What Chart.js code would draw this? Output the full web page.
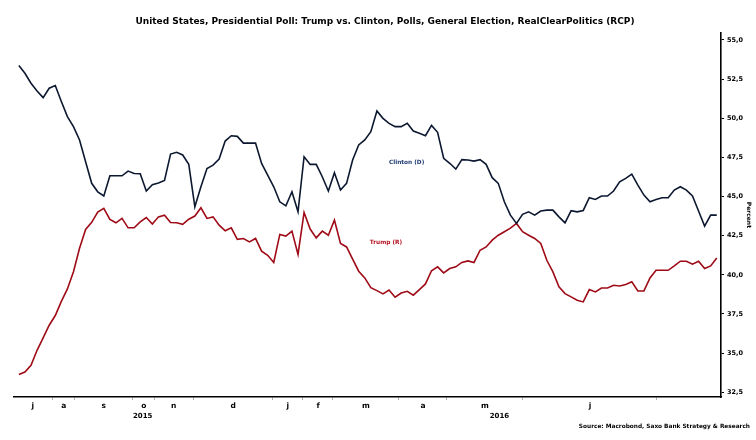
<!DOCTYPE html>
<html>
<head>
<meta charset="utf-8">
<script src="https://cdn.jsdelivr.net/npm/chart.js@4.4.1/dist/chart.umd.min.js"></script>
<style>
  html, body { margin: 0; padding: 0; background: #fff; }
  #wrap { width: 756px; height: 440px; }
</style>
</head>
<body>
<div id="wrap"><canvas id="pollChart"></canvas></div>
<script>
const clinton = [
  53.36, 52.87, 52.23, 51.74, 51.31, 51.91, 52.08, 51.06, 50.10, 49.46,
  48.61, 47.22, 45.84, 45.30, 45.04, 46.32, 46.32, 46.32, 46.62, 46.47,
  46.45, 45.35, 45.75, 45.86, 46.03, 47.71, 47.82, 47.65, 47.05, 44.34,
  45.62, 46.79, 47.00, 47.39, 48.54, 48.88, 48.84, 48.41, 48.41, 48.41,
  47.11, 46.37, 45.62, 44.66, 44.40, 45.30, 44.02, 47.54, 47.05, 47.05,
  46.26, 45.35, 46.52, 45.41, 45.84, 47.33, 48.29, 48.61, 49.14, 50.46,
  49.99, 49.67, 49.46, 49.46, 49.67, 49.18, 49.03, 48.88, 49.54, 49.10,
  47.44, 47.12, 46.75, 47.35, 47.33, 47.26, 47.35, 47.05, 46.20, 45.84,
  44.66, 43.81, 43.28, 43.86, 44.02, 43.81, 44.07, 44.13, 44.13, 43.70,
  43.32, 44.10, 44.02, 44.11, 44.92, 44.81, 45.03, 45.03, 45.35, 45.94,
  46.16, 46.43, 45.73, 45.09, 44.66, 44.81, 44.92, 44.92, 45.41, 45.62,
  45.41, 45.03, 44.07, 43.11, 43.81, 43.81
];
const trump = [
  33.64, 33.79, 34.22, 35.18, 35.97, 36.78, 37.40, 38.30, 39.10, 40.20,
  41.70, 42.90, 43.35, 44.00, 44.24, 43.54, 43.32, 43.60, 43.00, 43.00,
  43.38, 43.66, 43.24, 43.70, 43.81, 43.34, 43.32, 43.22, 43.55, 43.75,
  44.28, 43.60, 43.70, 43.17, 42.81, 43.00, 42.26, 42.32, 42.10, 42.32,
  41.51, 41.25, 40.79, 42.58, 42.47, 42.79, 41.30, 43.98, 42.92, 42.36,
  42.79, 42.53, 43.49, 42.00, 41.78, 41.00, 40.23, 39.80, 39.18, 38.99,
  38.78, 39.03, 38.57, 38.84, 38.95, 38.70, 39.06, 39.42, 40.26, 40.51,
  40.12, 40.40, 40.51, 40.79, 40.89, 40.79, 41.57, 41.78, 42.21, 42.53,
  42.75, 42.98, 43.28, 42.75, 42.53, 42.32, 42.00, 40.93, 40.19, 39.23,
  38.80, 38.59, 38.38, 38.27, 39.06, 38.91, 39.16, 39.16, 39.33, 39.29,
  39.38, 39.55, 38.97, 38.97, 39.80, 40.29, 40.29, 40.29, 40.57, 40.87,
  40.87, 40.68, 40.87, 40.40, 40.57, 41.08
];

// x axis: month letters sit in the middle of each month, ticks at month starts
const monthLabels = ['j', 'a', 's', 'o', 'n', 'd', 'j', 'f', 'm', 'a', 'm', 'j'];
const monthCenters = [2.3, 7.4, 14.0, 20.6, 25.5, 35.3, 44.3, 49.3, 57.2, 66.6, 76.8, 94.1];
const monthStarts = [5.6, 9.2, 18.8, 22.4, 28.7, 41.8, 46.8, 51.7, 62.6, 70.5, 83.0, 105.1];
const yearLabels = ['2015', '2016'];
const yearCenters = [20.4, 79.2];
const yTicks = [32.5, 35, 37.5, 40, 42.5, 45, 47.5, 50, 52.5, 55];

const X_MIN = -0.8, X_MAX = 115.7;
const FONT = '"DejaVu Sans", Verdana, sans-serif';

const seriesLabels = {
  id: 'seriesLabels',
  afterDatasetsDraw(chart) {
    const { ctx, scales: { x, y } } = chart;
    ctx.save();
    ctx.font = `bold 5.8px ${FONT}`;
    ctx.textAlign = 'center';
    ctx.textBaseline = 'middle';
    ctx.fillStyle = '#1d3a72';
    ctx.fillText('Clinton (D)', x.getPixelForValue(63.9), y.getPixelForValue(47.14));
    ctx.fillStyle = '#b3121f';
    ctx.fillText('Trump (R)', x.getPixelForValue(60.5), y.getPixelForValue(42.04));
    ctx.restore();
  }
};

const sourceNote = {
  id: 'sourceNote',
  afterDraw(chart) {
    const { ctx } = chart;
    ctx.save();
    ctx.font = `bold 5.8px ${FONT}`;
    ctx.textAlign = 'right';
    ctx.textBaseline = 'middle';
    ctx.fillStyle = '#000';
    ctx.fillText('Source: Macrobond, Saxo Bank Strategy & Research', chart.width - 6, 426);
    ctx.restore();
  }
};

const xBase = (extra) => Object.assign({
  type: 'linear',
  position: 'bottom',
  min: X_MIN,
  max: X_MAX,
  grid: { display: false, drawTicks: false },
  border: { display: false }
}, extra);

new Chart(document.getElementById('pollChart'), {
  type: 'line',
  data: {
    datasets: [
      {
        label: 'Clinton (D)',
        data: clinton.map((v, i) => ({ x: i, y: v })),
        borderColor: '#0c1830',
        borderWidth: 1.6,
        pointRadius: 0,
        tension: 0
      },
      {
        label: 'Trump (R)',
        data: trump.map((v, i) => ({ x: i, y: v })),
        borderColor: '#9e0b16',
        borderWidth: 1.6,
        pointRadius: 0,
        tension: 0
      }
    ]
  },
  options: {
    responsive: true,
    maintainAspectRatio: false,
    animation: false,
    layout: { padding: { left: 14, right: 0, top: 0, bottom: 19 } },
    plugins: {
      legend: { display: false },
      tooltip: { enabled: false },
      title: {
        display: true,
        text: 'United States, Presidential Poll: Trump vs. Clinton, Polls, General Election, RealClearPolitics (RCP)',
        color: '#000',
        font: { family: FONT, size: 9, weight: 'bold' },
        padding: { top: 16, bottom: 6 }
      }
    },
    scales: {
      x: xBase({
        weight: 0,
        afterBuildTicks: (axis) => { axis.ticks = monthStarts.map(v => ({ value: v })); },
        ticks: { display: false },
        grid: { display: true, drawOnChartArea: false, drawTicks: true, tickLength: 3, color: '#b0b0b0', lineWidth: 1 },
        border: { display: true, color: '#000', width: 1.4 },
        afterFit: (axis) => { axis.height = 3; }
      }),
      xMonths: xBase({
        weight: 1,
        afterBuildTicks: (axis) => { axis.ticks = monthCenters.map(v => ({ value: v })); },
        ticks: {
          autoSkip: false,
          maxRotation: 0,
          padding: 2,
          color: '#000',
          font: { family: FONT, size: 7.5, weight: 'bold' },
          callback: (value, index) => monthLabels[index]
        },
        afterFit: (axis) => { axis.height = 12; }
      }),
      xYears: xBase({
        weight: 2,
        afterBuildTicks: (axis) => { axis.ticks = yearCenters.map(v => ({ value: v })); },
        ticks: {
          autoSkip: false,
          maxRotation: 0,
          padding: 0,
          color: '#000',
          font: { family: FONT, size: 7, weight: 'bold' },
          callback: (value, index) => yearLabels[index]
        },
        afterFit: (axis) => { axis.height = 9; }
      }),
      y: {
        position: 'right',
        min: 32.2,
        max: 55.45,
        afterBuildTicks: (axis) => { axis.ticks = yTicks.map(v => ({ value: v })); },
        grid: { display: true, drawOnChartArea: false, drawTicks: true, tickLength: 3, color: '#000', lineWidth: 1 },
        border: { display: true, color: '#000', width: 1.6 },
        ticks: {
          padding: 3,
          color: '#000',
          font: { family: FONT, size: 6.5, weight: 'bold' },
          callback: (value) => value.toFixed(1).replace('.', ',')
        },
        title: {
          display: true,
          text: 'Percent',
          color: '#000',
          font: { family: FONT, size: 6, weight: 'bold' },
          padding: { top: 4, bottom: 0 }
        },
        afterFit: (axis) => { axis.width = 35; }
      }
    }
  },
  plugins: [seriesLabels, sourceNote]
});
</script>
</body>
</html>
